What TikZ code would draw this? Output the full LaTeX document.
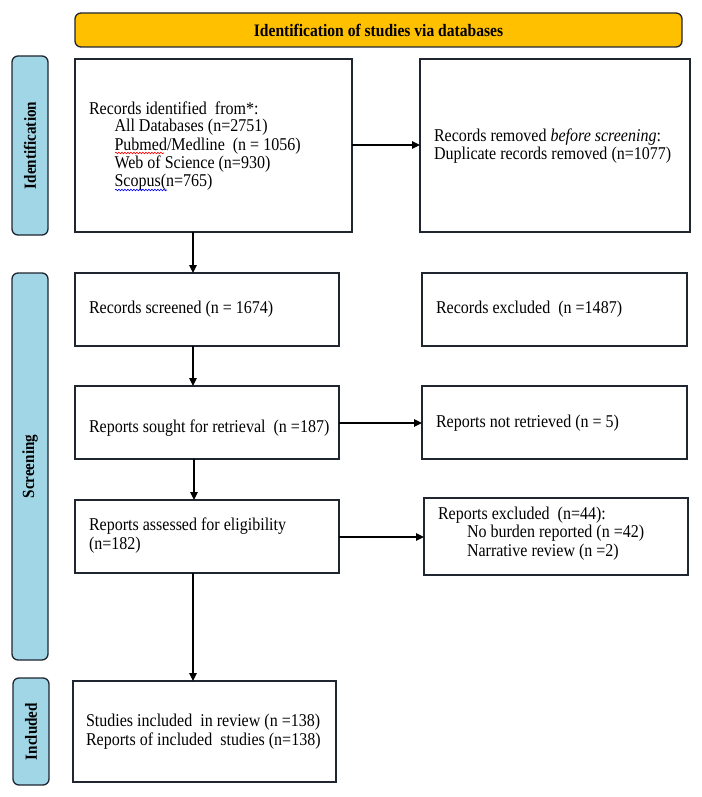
\documentclass[tikz,border=0pt]{standalone}
\usepackage{fontspec}
\setmainfont{Liberation Serif}[FakeStretch=0.89]
\usetikzlibrary{arrows.meta,decorations.pathmorphing}
\definecolor{tabblue}{HTML}{A0D6E6}
\definecolor{banner}{HTML}{FFC000}
\definecolor{edge}{HTML}{1F2630}
\begin{document}
\begin{tikzpicture}[x=1pt,y=-1pt,
  every node/.style={inner sep=0pt,outer sep=0pt},
  flowbox/.style={draw=edge,line width=1.2pt,fill=white},
  tabbox/.style={draw=edge,line width=1.3pt,fill=tabblue,rounded corners=6pt},
  bannerbox/.style={draw=edge,line width=1.3pt,fill=banner,rounded corners=6pt},
  boxtext/.style={font=\fontsize{18}{18.4}\selectfont,align=left,anchor=west},
  tabtext/.style={font=\fontsize{17}{18}\selectfont\bfseries,rotate=90},
  flow/.style={line width=1.2pt,-{Triangle[length=8pt,width=7.5pt]}},
  squig/.style={decorate,decoration={snake,amplitude=0.8pt,segment length=3pt},line width=0.6pt}
]
\useasboundingbox (0,0) rectangle (701,797);

% banner
\draw[bannerbox] (75,13) rectangle (682,47);
\node[font=\fontsize{17.5}{18}\selectfont\bfseries] (bannertxt) at (378.5,30) {Identification of studies via databases};

% tabs
\draw[tabbox] (12,56) rectangle (48,235);
\node[tabtext] (tabid) at (30,145.5) {Identification};
\draw[tabbox] (12,273) rectangle (48,660);
\node[tabtext] (tabscr) at (30,466.5) {Screening};
\draw[tabbox] (13,678) rectangle (49,785);
\node[tabtext] (tabinc) at (31,731.5) {Included};

% boxes
\node[flowbox,minimum width=277pt,minimum height=173pt,anchor=north west] (ident) at (75,59) {};
\node[flowbox,minimum width=270pt,minimum height=173pt,anchor=north west] (removed) at (420,59) {};
\node[flowbox,minimum width=264pt,minimum height=73pt,anchor=north west] (screened) at (75,273) {};
\node[flowbox,minimum width=265pt,minimum height=73pt,anchor=north west] (excluded) at (422,273) {};
\node[flowbox,minimum width=264pt,minimum height=73pt,anchor=north west] (sought) at (75,386) {};
\node[flowbox,minimum width=265pt,minimum height=73pt,anchor=north west] (notret) at (422,386) {};
\node[flowbox,minimum width=264pt,minimum height=73pt,anchor=north west] (assessed) at (75,500) {};
\node[flowbox,minimum width=264pt,minimum height=77pt,anchor=north west] (repexcl) at (424,498) {};
\node[flowbox,minimum width=263pt,minimum height=101pt,anchor=north west] (included) at (73,681) {};

% texts
\node[boxtext] (t1a) at (89,108) {Records identified\ \ from*:};
\node[boxtext] (t1b) at (114.5,127) {All Databases (n=2751)};
\node[boxtext] (t1c) at (114.5,146) {Pubmed/Medline\ \ (n = 1056)};
\node[boxtext] (t1d) at (114.5,164) {Web of Science (n=930)};
\node[boxtext] (t1e) at (114.5,182) {Scopus(n=765)};
\draw[squig,red] (115,153) -- (164,153);
\draw[squig,blue] (115,190) -- (167,190);
\node[boxtext] (t2) at (434,146) {Records removed \textit{before screening}:\\Duplicate records removed (n=1077)};
\node[boxtext] (t3) at (89,309.5) {Records screened (n = 1674)};
\node[boxtext] (t4) at (436,309.5) {Records excluded\ \ (n =1487)};
\node[boxtext] (t5) at (89,428) {Reports sought for retrieval\ \ (n =187)};
\node[boxtext] (t6) at (436,423) {Reports not retrieved (n = 5)};
\node[boxtext] (t7) at (89,535.5) {Reports assessed for eligibility\\(n=182)};
\node[boxtext] (t8a) at (438,515) {Reports excluded\ \ (n=44):};
\node[boxtext] (t8b) at (467,533) {No burden reported (n =42)};
\node[boxtext] (t8c) at (467,552) {Narrative review (n =2)};
\node[boxtext] (t9) at (86,731.5) {Studies included\ \ in review (n =138)\\Reports of included\ \ studies (n=138)};

% connectors
\coordinate (c1) at (193,232);
\coordinate (c2) at (193,273);
\draw[flow] (c1) -- (c2);
\draw[flow] (ident.east |- 0,145) -- (removed.west |- 0,145);
\draw[flow] (screened.south -| 193,0) -- (sought.north -| 193,0);
\draw[flow] (sought.east |- 0,423) -- (notret.west |- 0,423);
\draw[flow] (sought.south -| 194,0) -- (assessed.north -| 194,0);
\draw[flow] (assessed.east |- 0,537) -- (repexcl.west |- 0,537);
\draw[flow] (assessed.south -| 193,0) -- (included.north -| 193,0);
\end{tikzpicture}
\end{document}
